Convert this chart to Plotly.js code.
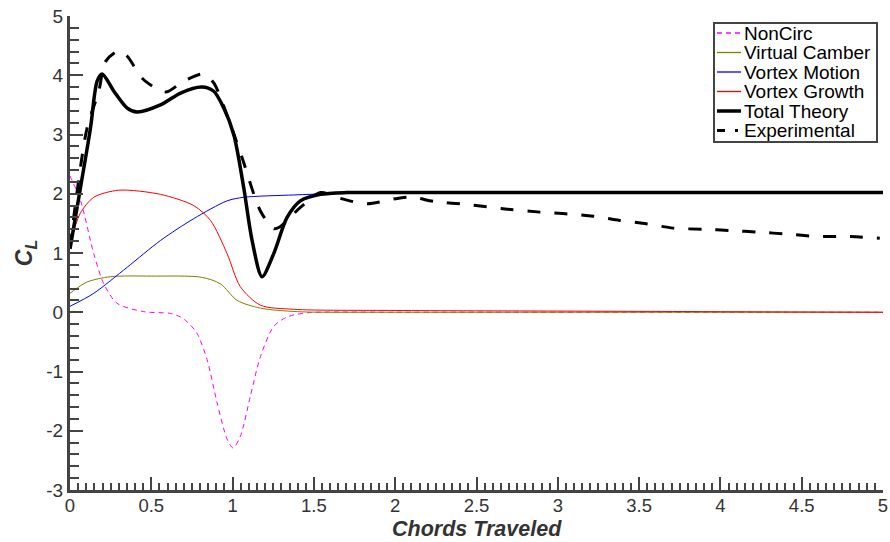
<!DOCTYPE html>
<html>
<head>
<meta charset="utf-8">
<script src="https://cdn.plot.ly/plotly-3.0.1.min.js"></script>
<style>html,body{margin:0;padding:0;background:#fff}#chart{width:890px;height:542px}</style>
</head>
<body>
<div id="chart"></div>
<script>
const nonCircX = [0, 0.065, 0.146, 0.208, 0.29, 0.454, 0.618, 0.68, 0.72, 0.78, 0.843, 0.905, 0.966, 1.003, 1.048, 1.109, 1.171, 1.253, 1.335, 1.458, 2, 3, 4, 5];
const nonCircY = [2.30, 1.88, 0.99, 0.48, 0.15, 0.01, -0.02, -0.08, -0.16, -0.35, -0.80, -1.53, -2.14, -2.29, -2.09, -1.42, -0.75, -0.24, -0.08, -0.01, 0.0, 0.0, 0.0, 0.0];

const camberX = [0, 0.105, 0.249, 0.5, 0.81, 0.925, 1.028, 1.171, 1.4, 2, 3, 4, 5];
const camberY = [0.32, 0.51, 0.60, 0.61, 0.59, 0.48, 0.20, 0.07, 0.01, 0.0, 0.0, 0.0, 0.0];

const motionX = [0, 0.146, 0.352, 0.556, 0.761, 0.966, 1.068, 1.376, 1.6, 2, 3, 4, 5];
const motionY = [0.10, 0.32, 0.76, 1.21, 1.58, 1.88, 1.94, 1.98, 2.0, 2.01, 2.01, 2.01, 2.01];

const growthX = [0, 0.061, 0.146, 0.30, 0.556, 0.761, 0.864, 0.966, 1.048, 1.171, 1.376, 2, 3, 4, 5];
const growthY = [1.12, 1.66, 1.94, 2.06, 1.99, 1.80, 1.55, 0.99, 0.43, 0.12, 0.05, 0.03, 0.02, 0.01, 0.0];

const totalX = [0, 0.065, 0.126, 0.167, 0.198, 0.27, 0.35, 0.413, 0.556, 0.68, 0.81, 0.884, 0.945, 1.007, 1.068, 1.12, 1.181, 1.253, 1.335, 1.417, 1.54, 1.7, 2, 3, 4, 5];
const totalY = [1.07, 2.11, 3.11, 3.90, 4.02, 3.73, 3.45, 3.38, 3.50, 3.70, 3.80, 3.73, 3.45, 3.00, 2.11, 1.21, 0.60, 0.99, 1.60, 1.88, 1.99, 2.02, 2.02, 2.02, 2.02, 2.02];

const expX = [0, 0.105, 0.177, 0.218, 0.30, 0.352, 0.444, 0.556, 0.597, 0.70, 0.822, 0.884, 0.986, 1.058, 1.171, 1.253, 1.29, 1.417, 1.54, 1.64, 1.72, 1.83, 2.03, 2.11, 2.24, 2.44, 2.69, 2.89, 3.06, 3.22, 3.38, 3.55, 3.71, 3.90, 4.06, 4.24, 4.41, 4.59, 4.76, 4.98];
const expY = [1.10, 3.11, 3.73, 4.23, 4.41, 4.32, 3.95, 3.74, 3.72, 3.90, 4.02, 3.87, 3.17, 2.61, 1.71, 1.41, 1.44, 1.77, 2.02, 1.94, 1.88, 1.83, 1.93, 1.94, 1.87, 1.82, 1.74, 1.69, 1.66, 1.62, 1.55, 1.49, 1.42, 1.40, 1.38, 1.35, 1.32, 1.28, 1.28, 1.25];

const seriesNames = ['NonCirc', 'Virtual Camber', 'Vortex Motion', 'Vortex Growth', 'Total Theory', 'Experimental'];

const xTickVals = [0, 0.5, 1, 1.5, 2, 2.5, 3, 3.5, 4, 4.5, 5];
const xTickText = ['0', '0.5', '1', '1.5', '2', '2.5', '3', '3.5', '4', '4.5', '5'];
const yTickVals = [-3, -2, -1, 0, 1, 2, 3, 4, 5];
const yTickText = ['-3', '-2', '-1', '0', '1', '2', '3', '4', '5'];
const xTitle = 'Chords Traveled';

const font = 'Liberation Sans, Arial, sans-serif';
const styles = [
  {color: '#ff00ff', width: 1, dash: '5px,4px'},
  {color: '#808000', width: 1, dash: 'solid'},
  {color: '#0000ff', width: 1, dash: 'solid'},
  {color: '#ff0000', width: 1, dash: 'solid'},
  {color: '#000000', width: 3.5, dash: 'solid'},
  {color: '#000000', width: 3, dash: '13px,14px'}
];
const legendDash = ['5px,4px', 'solid', 'solid', 'solid', 'solid', '8px,10px,3px,10px'];
const legendWidth = [1.3, 1.3, 1.3, 1.3, 3.5, 3];
const xs = [nonCircX, camberX, motionX, growthX, totalX, expX];
const ys = [nonCircY, camberY, motionY, growthY, totalY, expY];

const traces = xs.map((x, i) => ({
  x: x, y: ys[i], name: seriesNames[i], mode: 'lines', showlegend: false,
  line: {color: styles[i].color, width: styles[i].width, dash: styles[i].dash, shape: 'spline', smoothing: 0.8}
}));

// Legend and x title drawn as layout decorations (plot area: px 70..883, py 16..490)
const PX0 = 70, PXW = 813, PY1 = 490, PYH = 474;
const px = v => (v - PX0) / PXW;
const py = v => (PY1 - v) / PYH;
const shapes = [{
  type: 'rect', xref: 'paper', yref: 'paper',
  x0: px(714), x1: px(877), y0: py(142), y1: py(23),
  line: {color: '#444444', width: 2}, fillcolor: '#ffffff', layer: 'above'
}];
const annotations = [{
  xref: 'paper', yref: 'paper', x: px(477), y: py(529),
  xanchor: 'center', yanchor: 'middle', showarrow: false, borderpad: 0,
  text: '<b><i>' + xTitle + '</i></b>', font: {family: font, size: 21.5, color: '#333333'}
}];
const rowY = [33, 52.5, 72, 91.5, 111, 130.5];
seriesNames.forEach((n, i) => {
  shapes.push({
    type: 'line', xref: 'paper', yref: 'paper', layer: 'above',
    x0: px(717), x1: px(741), y0: py(rowY[i]), y1: py(rowY[i]),
    line: {color: styles[i].color, width: legendWidth[i], dash: legendDash[i]}
  });
  annotations.push({
    xref: 'paper', yref: 'paper', x: px(742), y: py(rowY[i]),
    xanchor: 'left', yanchor: 'middle', showarrow: false,
    text: n, font: {family: font, size: 19, color: '#000000'}
  });
});

const layout = {
  width: 890, height: 542,
  margin: {l: 70, r: 7, t: 16, b: 52},
  paper_bgcolor: '#ffffff', plot_bgcolor: '#ffffff',
  font: {family: font, color: '#333333', size: 19},
  showlegend: false,
  shapes: shapes,
  annotations: annotations,
  xaxis: {
    range: [0, 5], showgrid: false, zeroline: false,
    showline: true, linecolor: '#444444', linewidth: 3,
    ticks: 'inside', ticklen: 13, tickwidth: 2, tickcolor: '#444444',
    tickmode: 'array', tickvals: xTickVals, ticktext: xTickText,
    ticklabelstandoff: -3,
    tickfont: {family: font, size: 18.5, color: '#333333'},
    minor: {dtick: 0.05, ticks: 'inside', ticklen: 7, tickwidth: 2, tickcolor: '#444444', showgrid: false}
  },
  yaxis: {
    range: [-3, 5], showgrid: false, zeroline: false,
    showline: true, linecolor: '#444444', linewidth: 3,
    ticks: 'inside', ticklen: 13, tickwidth: 2, tickcolor: '#444444',
    tickmode: 'array', tickvals: yTickVals, ticktext: yTickText,
    tickfont: {family: font, size: 19, color: '#333333'},
    minor: {dtick: 0.2, ticks: 'inside', ticklen: 9, tickwidth: 2, tickcolor: '#444444', showgrid: false},
    title: {text: '<b><i>C<sub>L</sub></i></b>', font: {family: font, size: 23, color: '#333333'}, standoff: 8}
  }
};

Plotly.newPlot('chart', traces, layout, {displayModeBar: false, staticPlot: true});
</script>
</body>
</html>
